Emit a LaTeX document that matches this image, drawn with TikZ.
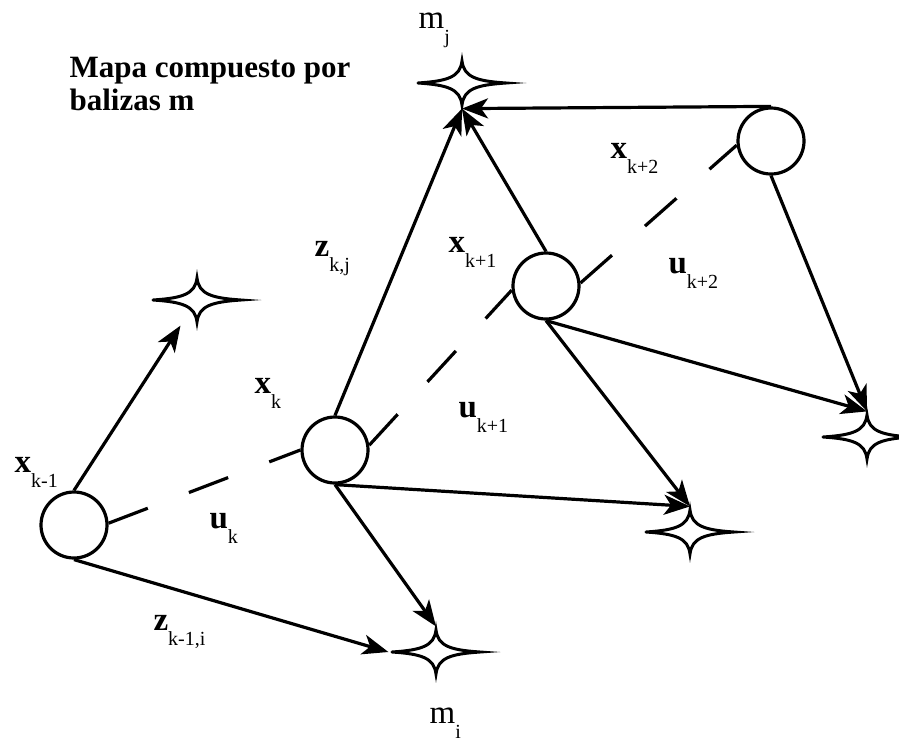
\documentclass[tikz,border=0pt]{standalone}
\usepackage{fontspec}
\setmainfont{Liberation Serif}
\usetikzlibrary{arrows.meta}
\newcommand\etq[2]{#1\raisebox{-15pt}{\fontsize{20}{20}\selectfont #2}}

\begin{document}
\begin{tikzpicture}[x=1pt,y=-1pt,line width=3.2pt,
  estado/.style={circle,draw,minimum size=66pt,inner sep=0pt},
  baliza/.style={rectangle,minimum width=92pt,minimum height=48pt,inner sep=0pt},
  obs/.style={-{Stealth[length=26pt,width=20pt,inset=7pt]}},
  rastro/.style={dash pattern=on 42pt off 44pt},
  etiqueta/.style={anchor=base west,inner sep=0pt,font=\fontsize{33}{33}\selectfont},
  pics/estrella/.style={code={
    \draw[line width=3pt,line cap=round,miter limit=20]
      (-44,0) .. controls (-14,-2) and (-2,-6) .. (0,-22)
      .. controls (2,-6) and (14,-2) .. (44,0)
      .. controls (14,2) and (2,6) .. (0,22)
      .. controls (-2,6) and (-14,2) .. (-44,0);
  }}]
  \useasboundingbox (0,0) rectangle (899,742);
  \node[estado] (xkm1) at (74,525) {};
  \node[estado] (xk) at (335,450) {};
  \node[estado] (xk1) at (546,286) {};
  \node[estado] (xk2) at (771,141) {};
  \node[baliza] (mj) at (462,83) {};
  \node[baliza] (ml) at (197,300) {};
  \node[baliza] (mi) at (436,652) {};
  \node[baliza] (mm) at (690,532) {};
  \node[baliza] (mr) at (867,437) {};
  \foreach \b in {mj,ml,mi,mm,mr}
    \pic at (\b) {estrella};
  \draw[rastro] (xkm1.3) -- (xk.180);
  \draw[rastro] (xk.8) -- (xk1.187);
  \draw[rastro] (xk1.5) -- (xk2.187);
  \draw[obs] (xkm1.north) -- (ml);
  \draw[obs] (xkm1.south) -- (mi.west);
  \draw[obs] (xk.north) -- (mj.south);
  \draw[obs] (xk.south) -- (mi.north);
  \draw[obs] (xk.south) -- (mm.north);
  \draw[obs] (xk1.north) -- (mj.south);
  \draw[obs] (xk1.south) -- (mm.north);
  \draw[obs] (xk1.south) -- (mr.north);
  \draw[obs] (xk2.south) -- (mr.north);
  \draw[obs] (xk2.north) -- (mj.south);
  \node[anchor=north west,align=left,inner sep=0pt,font=\fontsize{31}{33}\selectfont\bfseries]
    (titulo) at (68,56) {Mapa compuesto por\\balizas m};
  \node[etiqueta] (lxkm1) at (13,472) {\etq{\textbf{x}}{k-1}};
  \node[etiqueta] (lxk) at (253,393) {\etq{\textbf{x}}{k}};
  \node[etiqueta] (luk) at (208,528) {\etq{\textbf{u}}{k}};
  \node[etiqueta] (lzkm1) at (152,630) {\etq{\textbf{z}}{k-1,i}};
  \node[etiqueta] (lzk) at (313,256) {\etq{\textbf{z}}{k,j}};
  \node[etiqueta] (lxk1) at (447,252) {\etq{\textbf{x}}{k+1}};
  \node[etiqueta] (luk1) at (457,417) {\etq{\textbf{u}}{k+1}};
  \node[etiqueta] (lxk2) at (609,158) {\etq{\textbf{x}}{k+2}};
  \node[etiqueta] (luk2) at (667,273) {\etq{\textbf{u}}{k+2}};
  \node[etiqueta] (lmj) at (417,28) {\etq{m}{j}};
  \node[etiqueta] (lmi) at (428,723) {\etq{m}{i}};
\end{tikzpicture}
\end{document}
